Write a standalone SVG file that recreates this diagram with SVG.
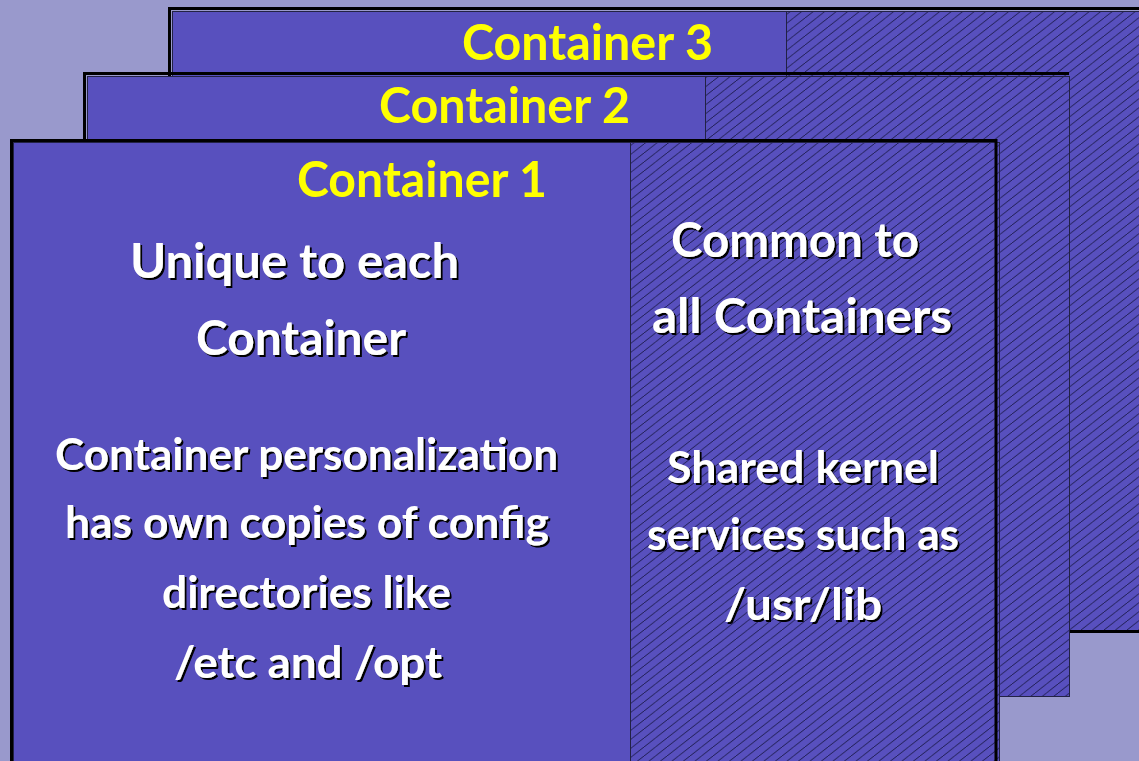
<svg xmlns="http://www.w3.org/2000/svg" width="1139" height="761" viewBox="0 0 1139 761">
<style>
.frame{fill:none;stroke:#000;stroke-width:3}
.box{fill:#5850BE;stroke:#222244;stroke-width:1}
.hatch{fill:url(#hatch);stroke:#222244;stroke-width:1}
.title{font-family:Lato,"Open Sans",sans-serif;font-weight:700;font-size:50px;fill:#FFFF00}
.head{font-family:Lato,"Open Sans",sans-serif;font-weight:700;font-size:48px;fill:#FFFFFF;filter:url(#shadow)}
.body{font-family:Lato,"Open Sans",sans-serif;font-weight:700;font-size:44px;fill:#FFFFFF;filter:url(#shadow)}
</style>
<defs>
<pattern id="hatch" patternUnits="userSpaceOnUse" width="11.5" height="9">
<rect width="11.5" height="9" fill="#5850BE"/>
<path d="M-11.5,9 L0,0 M0,9 L11.5,0 M11.5,9 L23,0" stroke="#15153f" stroke-width="0.85"/>
</pattern>
<filter id="shadow" x="-5%" y="-20%" width="110%" height="140%">
<feDropShadow dx="2" dy="2" stdDeviation="0.3" flood-color="#000" flood-opacity="1"/>
</filter>
</defs>
<rect width="1139" height="761" fill="#9999CC"/>
<g id="container3">
<path class="frame" d="M169.5,140 V8.5 H1139"/>
<rect class="box" x="172.5" y="11.5" width="1000" height="619"/>
<rect class="hatch" x="786.5" y="11.5" width="400" height="619"/>
<line x1="172" y1="631.5" x2="1139" y2="631.5" stroke="#000" stroke-width="3"/>
<text class="title" x="462" y="60" textLength="251" lengthAdjust="spacingAndGlyphs">Container 3</text>
</g>
<g id="container2">
<path class="frame" d="M84.5,200 V73.5 H1069"/>
<rect class="box" x="87.5" y="76.5" width="982" height="620"/>
<rect class="hatch" x="705.5" y="76.5" width="364" height="620"/>
<text class="title" x="379" y="123" textLength="251" lengthAdjust="spacingAndGlyphs">Container 2</text>
</g>
<g id="container1">
<rect class="box" x="13.5" y="142.5" width="986" height="640"/>
<rect class="hatch" x="630.5" y="142.5" width="369" height="640"/>
<path class="frame" d="M11.5,761 V140.5 H996 V761"/>
<text class="title" x="297" y="197" textLength="250" lengthAdjust="spacingAndGlyphs">Container 1</text>
<text class="head" x="130" y="278" textLength="329" lengthAdjust="spacingAndGlyphs">Unique to each</text>
<text class="head" x="196" y="355" textLength="210" lengthAdjust="spacingAndGlyphs">Container</text>
<text class="body" x="55" y="470" textLength="503" lengthAdjust="spacingAndGlyphs">Container personalization</text>
<text class="body" x="65" y="538" textLength="484" lengthAdjust="spacingAndGlyphs">has own copies of config</text>
<text class="body" x="162" y="608" textLength="289" lengthAdjust="spacingAndGlyphs">directories like</text>
<text class="body" x="174" y="678" textLength="268" lengthAdjust="spacingAndGlyphs">/etc and /opt</text>
<text class="head" x="671" y="257" textLength="248" lengthAdjust="spacingAndGlyphs">Common to</text>
<text class="head" x="652" y="333" textLength="300" lengthAdjust="spacingAndGlyphs">all Containers</text>
<text class="body" x="667" y="483" textLength="272" lengthAdjust="spacingAndGlyphs">Shared kernel</text>
<text class="body" x="647" y="550" textLength="312" lengthAdjust="spacingAndGlyphs">services such as</text>
<text class="body" x="724" y="620" textLength="158" lengthAdjust="spacingAndGlyphs">/usr/lib</text>
</g>
<g id="connectors"></g>
</svg>
